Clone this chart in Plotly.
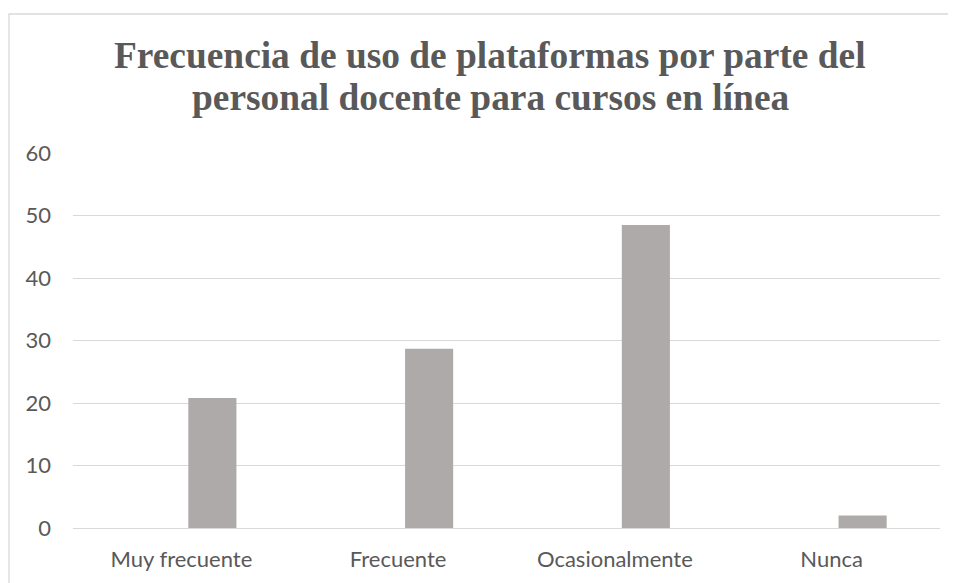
import plotly.graph_objects as go

categories = ["Muy frecuente", "Frecuente", "Ocasionalmente", "Nunca"]
values = [20.8, 28.7, 48.5, 2.0]
title_lines = [
    "Frecuencia de uso de plataformas por parte del",
    "personal docente para cursos en línea",
]

# the page body has an 8px margin, so shift the figure up/left to compensate
SHIFT = 8
W, H = 956, 583
L, T = 73 - SHIFT, 153 - SHIFT
pw, ph = 867, 375
R, B = W - L - pw, H - T - ph


def px_x(x):
    return (x - SHIFT - L) / pw


def px_y(y):
    return (T + ph - (y - SHIFT)) / ph


fig = go.Figure()
fig.add_trace(go.Bar(
    x=categories,
    y=values,
    width=0.222,
    offset=0.032,
    marker=dict(color="#AEAAAA", line=dict(width=0)),
))

title_font = dict(family="Liberation Serif", size=37.4, color="#595959")
annotations = []
for i, line in enumerate(title_lines):
    annotations.append(dict(
        text="<b>%s</b>" % line,
        xref="paper", yref="paper",
        x=px_x(490), y=px_y(77 + 42 * i),
        xanchor="center", yanchor="bottom",
        showarrow=False, borderpad=0,
        font=title_font,
    ))

fig.update_layout(
    width=W, height=H,
    margin=dict(l=L, r=R, t=T, b=B),
    paper_bgcolor="white",
    plot_bgcolor="white",
    showlegend=False,
    annotations=annotations,
    shapes=[dict(
        type="rect", xref="paper", yref="paper",
        x0=px_x(9), x1=px_x(1000), y0=px_y(620), y1=px_y(14),
        line=dict(color="#D9D9D9", width=1.3),
        fillcolor="rgba(0,0,0,0)", layer="below",
    )],
)
fig.update_xaxes(
    type="category",
    showgrid=False,
    showline=False,
    ticks="",
    tickfont=dict(family="Lato", size=22, color="#595959"),
    ticklabelstandoff=16,
)
fig.update_yaxes(
    range=[0, 60],
    dtick=10,
    showgrid=True,
    gridcolor="#D9D9D9",
    gridwidth=1.3,
    zeroline=True,
    zerolinecolor="#D9D9D9",
    zerolinewidth=1.3,
    showline=False,
    ticks="",
    tickfont=dict(family="Lato", size=22, color="#595959"),
    ticklabelstandoff=21,
)

fig.write_html("out.html")
